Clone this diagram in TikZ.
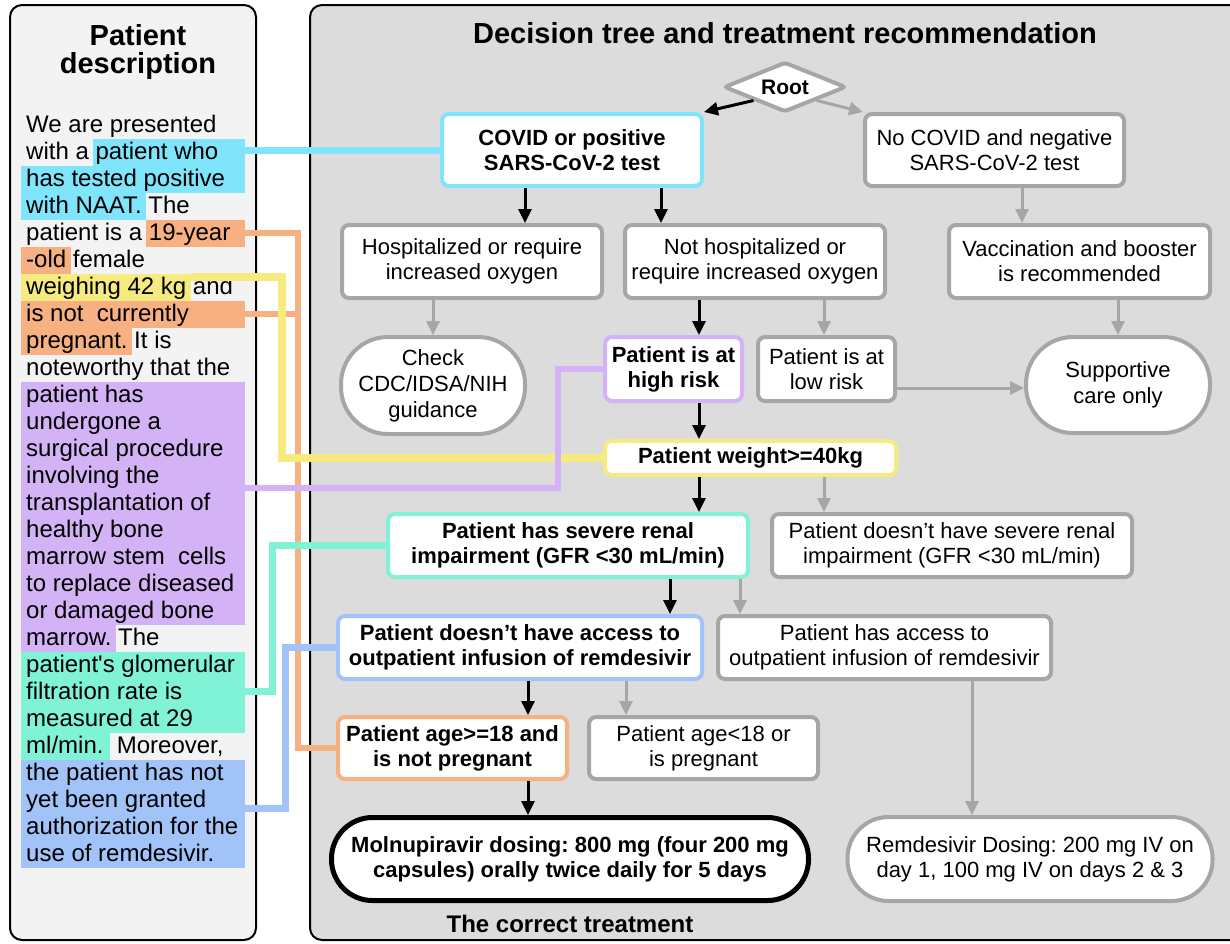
\documentclass[tikz,border=0pt]{standalone}
\usepackage{fontspec}
\setmainfont{Liberation Sans}
\usetikzlibrary{arrows.meta,shapes.geometric}
\definecolor{gcol}{HTML}{A6A6A6}
\definecolor{leftbg}{HTML}{F3F3F3}
\definecolor{rightbg}{HTML}{DCDCDC}
\definecolor{ccyan}{HTML}{80E4FA}
\definecolor{corange}{HTML}{F7B081}
\definecolor{cyellow}{HTML}{F5EB80}
\definecolor{cpurple}{HTML}{D3B2F5}
\definecolor{cteal}{HTML}{80F2D5}
\definecolor{cblue}{HTML}{A2C3F7}
\newcommand{\hlrow}[4]{\fill[#1] (#3,{98+27*#2-13.5}) rectangle (#4,{98+27*#2+13.5});}
\frenchspacing
\begin{document}
\frenchspacing
\begin{tikzpicture}[x=1pt,y=-1pt,
 box/.style={rectangle, rounded corners=7pt, fill=white, line width=4pt, align=center, inner sep=2pt, font=\fontsize{22}{25}\selectfont},
 gbox/.style={box, draw=gcol},
 cbox/.style={box, draw=#1, font=\fontsize{22}{25}\selectfont\bfseries},
 stad/.style={rectangle, rounded corners=#1, fill=white, line width=4pt, align=center, inner sep=2pt, font=\fontsize{22}{26}\selectfont},
 barr/.style={-{Triangle[length=14pt,width=13pt]}, line width=3pt, draw=black},
 garr/.style={-{Triangle[length=14pt,width=13pt]}, line width=3pt, draw=gcol},
 lt/.style={anchor=base west, inner sep=0pt, font=\fontsize{24}{27}\selectfont},
]
\useasboundingbox (0,0) rectangle (1230,943);
% panels
\draw[line width=2pt, fill=leftbg, rounded corners=12pt] (10,5) rectangle (256,940);
\draw[line width=2pt, fill=rightbg, rounded corners=12pt] (310,5) rectangle (1250,940);

% titles
\node[anchor=base, inner sep=0pt, font=\fontsize{29}{29}\selectfont\bfseries] (lt1) at (138,45) {Patient};
\node[anchor=base, inner sep=0pt, font=\fontsize{29}{29}\selectfont\bfseries] (lt2) at (138,73) {description};
\node[anchor=base, inner sep=0pt, font=\fontsize{29}{29}\selectfont\bfseries] (rtitle) at (785,43) {Decision tree and treatment recommendation};
\node[anchor=base, inner sep=0pt, font=\fontsize{24}{24}\selectfont\bfseries] (correct) at (570,932) {The correct treatment};

% highlights
\hlrow{ccyan}{2}{93}{245}
\hlrow{ccyan}{3}{21}{245}
\hlrow{ccyan}{4}{21}{146}
\hlrow{corange}{5}{146}{245}
\hlrow{corange}{6}{21}{71}
\hlrow{cyellow}{7}{21}{191}
\hlrow{corange}{8}{21}{245}
\hlrow{corange}{9}{21}{132}
\foreach \n in {11,...,19}{\hlrow{cpurple}{\n}{21}{245}}
\hlrow{cpurple}{20}{21}{116}
\foreach \n in {21,22,23}{\hlrow{cteal}{\n}{21}{245}}
\hlrow{cteal}{24}{21}{110}
\foreach \n in {25,...,28}{\hlrow{cblue}{\n}{21}{245}}

% left text
\node[lt] (t1) at (26,132) {We are presented};
\node[lt] (t2) at (26,159) {with a patient who};
\node[lt] (t3) at (26,186) {has tested positive};
\node[lt] (t4) at (26,213) {with NAAT. The};
\node[lt] (t5) at (26,240) {patient is a 19-year};
\node[lt] (t6) at (26,267) {-old female};
\node[lt] (t7) at (26,294) {weighing 42 kg and};
\node[lt] (t8) at (26,321) {is not\ \ currently};
\node[lt] (t9) at (26,348) {pregnant. It is};
\node[lt] (t10) at (26,375) {noteworthy that the};
\node[lt] (t11) at (26,402) {patient has};
\node[lt] (t12) at (26,429) {undergone a};
\node[lt] (t13) at (26,456) {surgical procedure};
\node[lt] (t14) at (26,483) {involving the};
\node[lt] (t15) at (26,510) {transplantation of};
\node[lt] (t16) at (26,537) {healthy bone};
\node[lt] (t17) at (26,564) {marrow stem\ \ cells};
\node[lt] (t18) at (26,591) {to replace diseased};
\node[lt] (t19) at (26,618) {or damaged bone};
\node[lt] (t20) at (26,645) {marrow. The};
\node[lt] (t21) at (26,672) {patient\textquotesingle s glomerular};
\node[lt] (t22) at (26,699) {filtration rate is};
\node[lt] (t23) at (26,726) {measured at 29};
\node[lt] (t24) at (26,753) {ml/min.\ \ Moreover,};
\node[lt] (t25) at (26,780) {the patient has not};
\node[lt] (t26) at (26,807) {yet been granted};
\node[lt] (t27) at (26,834) {authorization for the};
\node[lt] (t28) at (26,861) {use of remdesivir.};

% nodes
\node[draw=gcol, fill=white, line width=4pt, diamond, aspect=2.4, minimum width=122pt, minimum height=50pt, inner sep=0pt, rounded corners=3pt, font=\fontsize{21}{21}\selectfont\bfseries] (root) at (785,87) {Root};
\node[cbox=ccyan, minimum width=260pt, minimum height=72pt] (covid) at (572,150) {COVID or positive\\SARS-CoV-2 test};
\node[gbox, minimum width=259pt, minimum height=72pt] (nocovid) at (994.5,150) {No COVID and negative\\SARS-CoV-2 test};
\node[gbox, minimum width=260pt, minimum height=73pt] (hosp) at (472,261.5) {Hospitalized or require\\increased oxygen};
\node[gbox, minimum width=260pt, minimum height=73pt] (nothosp) at (755,261.5) {Not hospitalized or\\require increased oxygen};
\node[gbox, minimum width=261pt, minimum height=73pt] (vacc) at (1079.5,261.5) {Vaccination and booster\\is recommended};
\node[stad=47pt, draw=gcol, minimum width=184pt, minimum height=97pt] (check) at (433,385.5) {Check\\CDC/IDSA/NIH\\guidance};
\node[cbox=cpurple, minimum width=137pt, minimum height=64pt] (high) at (673.5,369) {Patient is at\\high risk};
\node[gbox, minimum width=137pt, minimum height=64pt] (low) at (826.5,369) {Patient is at\\low risk};
\node[stad=47pt, draw=gcol, minimum width=184pt, minimum height=96pt] (supp) at (1118,385) {Supportive\\care only};
\node[cbox=cyellow, minimum width=291pt, minimum height=34pt] (weight) at (750.5,458) {Patient weight>=40kg};
\node[cbox=cteal, minimum width=360pt, minimum height=63pt] (renal) at (568,545.5) {Patient has severe renal\\impairment (GFR <30 mL/min)};
\node[gbox, minimum width=360pt, minimum height=63pt] (notsev) at (952,545.5) {Patient doesn’t have severe renal\\impairment (GFR <30 mL/min)};
\node[cbox=cblue, minimum width=364pt, minimum height=63pt] (noacc) at (520,647.5) {Patient doesn’t have access to\\outpatient infusion of remdesivir};
\node[gbox, minimum width=333pt, minimum height=63pt] (acc) at (884.5,647.5) {Patient has access to\\outpatient infusion of remdesivir};
\node[cbox=corange, minimum width=229pt, minimum height=62pt] (age) at (452.5,748) {Patient age>=18 and\\is not pregnant};
\node[gbox, minimum width=229pt, minimum height=62pt] (ageno) at (703.5,748) {Patient age<18 or\\is pregnant};
\node[stad=41pt, draw=black, line width=5pt, minimum width=477pt, minimum height=83pt, font=\fontsize{22}{25}\selectfont\bfseries] (molnu) at (570,859) {Molnupiravir dosing: 800 mg (four 200 mg\\capsules) orally twice daily for 5 days};
\node[stad=41pt, draw=gcol, minimum width=365pt, minimum height=84pt, font=\fontsize{22}{25}\selectfont] (remd) at (1030,859) {Remdesivir Dosing: 200 mg IV on\\day 1, 100 mg IV on days 2 \& 3};

% colored connectors
\draw[ccyan, line width=7pt] (245,150) -- (covid.west);
\draw[corange, line width=6pt] (245,233) -| ([xshift=-38pt]age.west) -- (age.west);
\draw[corange, line width=6pt] (238,314) -- (301,314);
\draw[cyellow, line width=8pt] (191,277) -| ([xshift=-321pt]weight.west) -- (weight.west);
\draw[cpurple, line width=6pt] (245,488) -| ([xshift=-45pt]high.west) -- (high.west);
\draw[cteal, line width=7pt] (245,691) -| ([xshift=-114pt]renal.west) -- (renal.west);
\draw[cblue, line width=7pt] (245,808) -| ([xshift=-51pt]noacc.west) -- (noacc.west);

% arrows
\draw[barr] (root.south west) -- (covid.north east);
\draw[garr] (root.south east) -- (nocovid.north west);
\draw[barr] ([xshift=-47pt]covid.south) -- ([xshift=53pt]hosp.north);
\draw[barr] ([xshift=89pt]covid.south) -- ([xshift=-94pt]nothosp.north);
\draw[garr] ([xshift=27.5pt]nocovid.south) -- ([xshift=-57.5pt]vacc.north);
\draw[garr] ([xshift=-39pt]hosp.south) -- (check.north);
\draw[barr] ([xshift=-56pt]nothosp.south) -- ([xshift=25.5pt]high.north);
\draw[garr] ([xshift=69pt]nothosp.south) -- ([xshift=-2.5pt]low.north);
\draw[garr] ([xshift=38.5pt]vacc.south) -- (supp.north);
\draw[garr] ([yshift=-19pt]low.east) -- ([yshift=-3pt]supp.west);
\draw[barr] ([xshift=25.5pt]high.south) -- ([xshift=-51.5pt]weight.north);
\draw[barr] ([xshift=-51.5pt]weight.south) -- ([xshift=131pt]renal.north);
\draw[garr] ([xshift=73.5pt]weight.south) -- ([xshift=-128pt]notsev.north);
\draw[barr] ([xshift=102pt]renal.south) -- ([xshift=150pt]noacc.north);
\draw[garr] ([xshift=172pt]renal.south) -- ([xshift=-144.5pt]acc.north);
\draw[barr] ([xshift=8pt]noacc.south) -- ([xshift=75.5pt]age.north);
\draw[garr] ([xshift=106pt]noacc.south) -- ([xshift=-77.5pt]ageno.north);
\draw[barr] ([xshift=75.5pt]age.south) -- ([xshift=-42pt]molnu.north);
\draw[garr] ([xshift=87.5pt]acc.south) -- ([xshift=-58pt]remd.north);
\end{tikzpicture}
\end{document}
